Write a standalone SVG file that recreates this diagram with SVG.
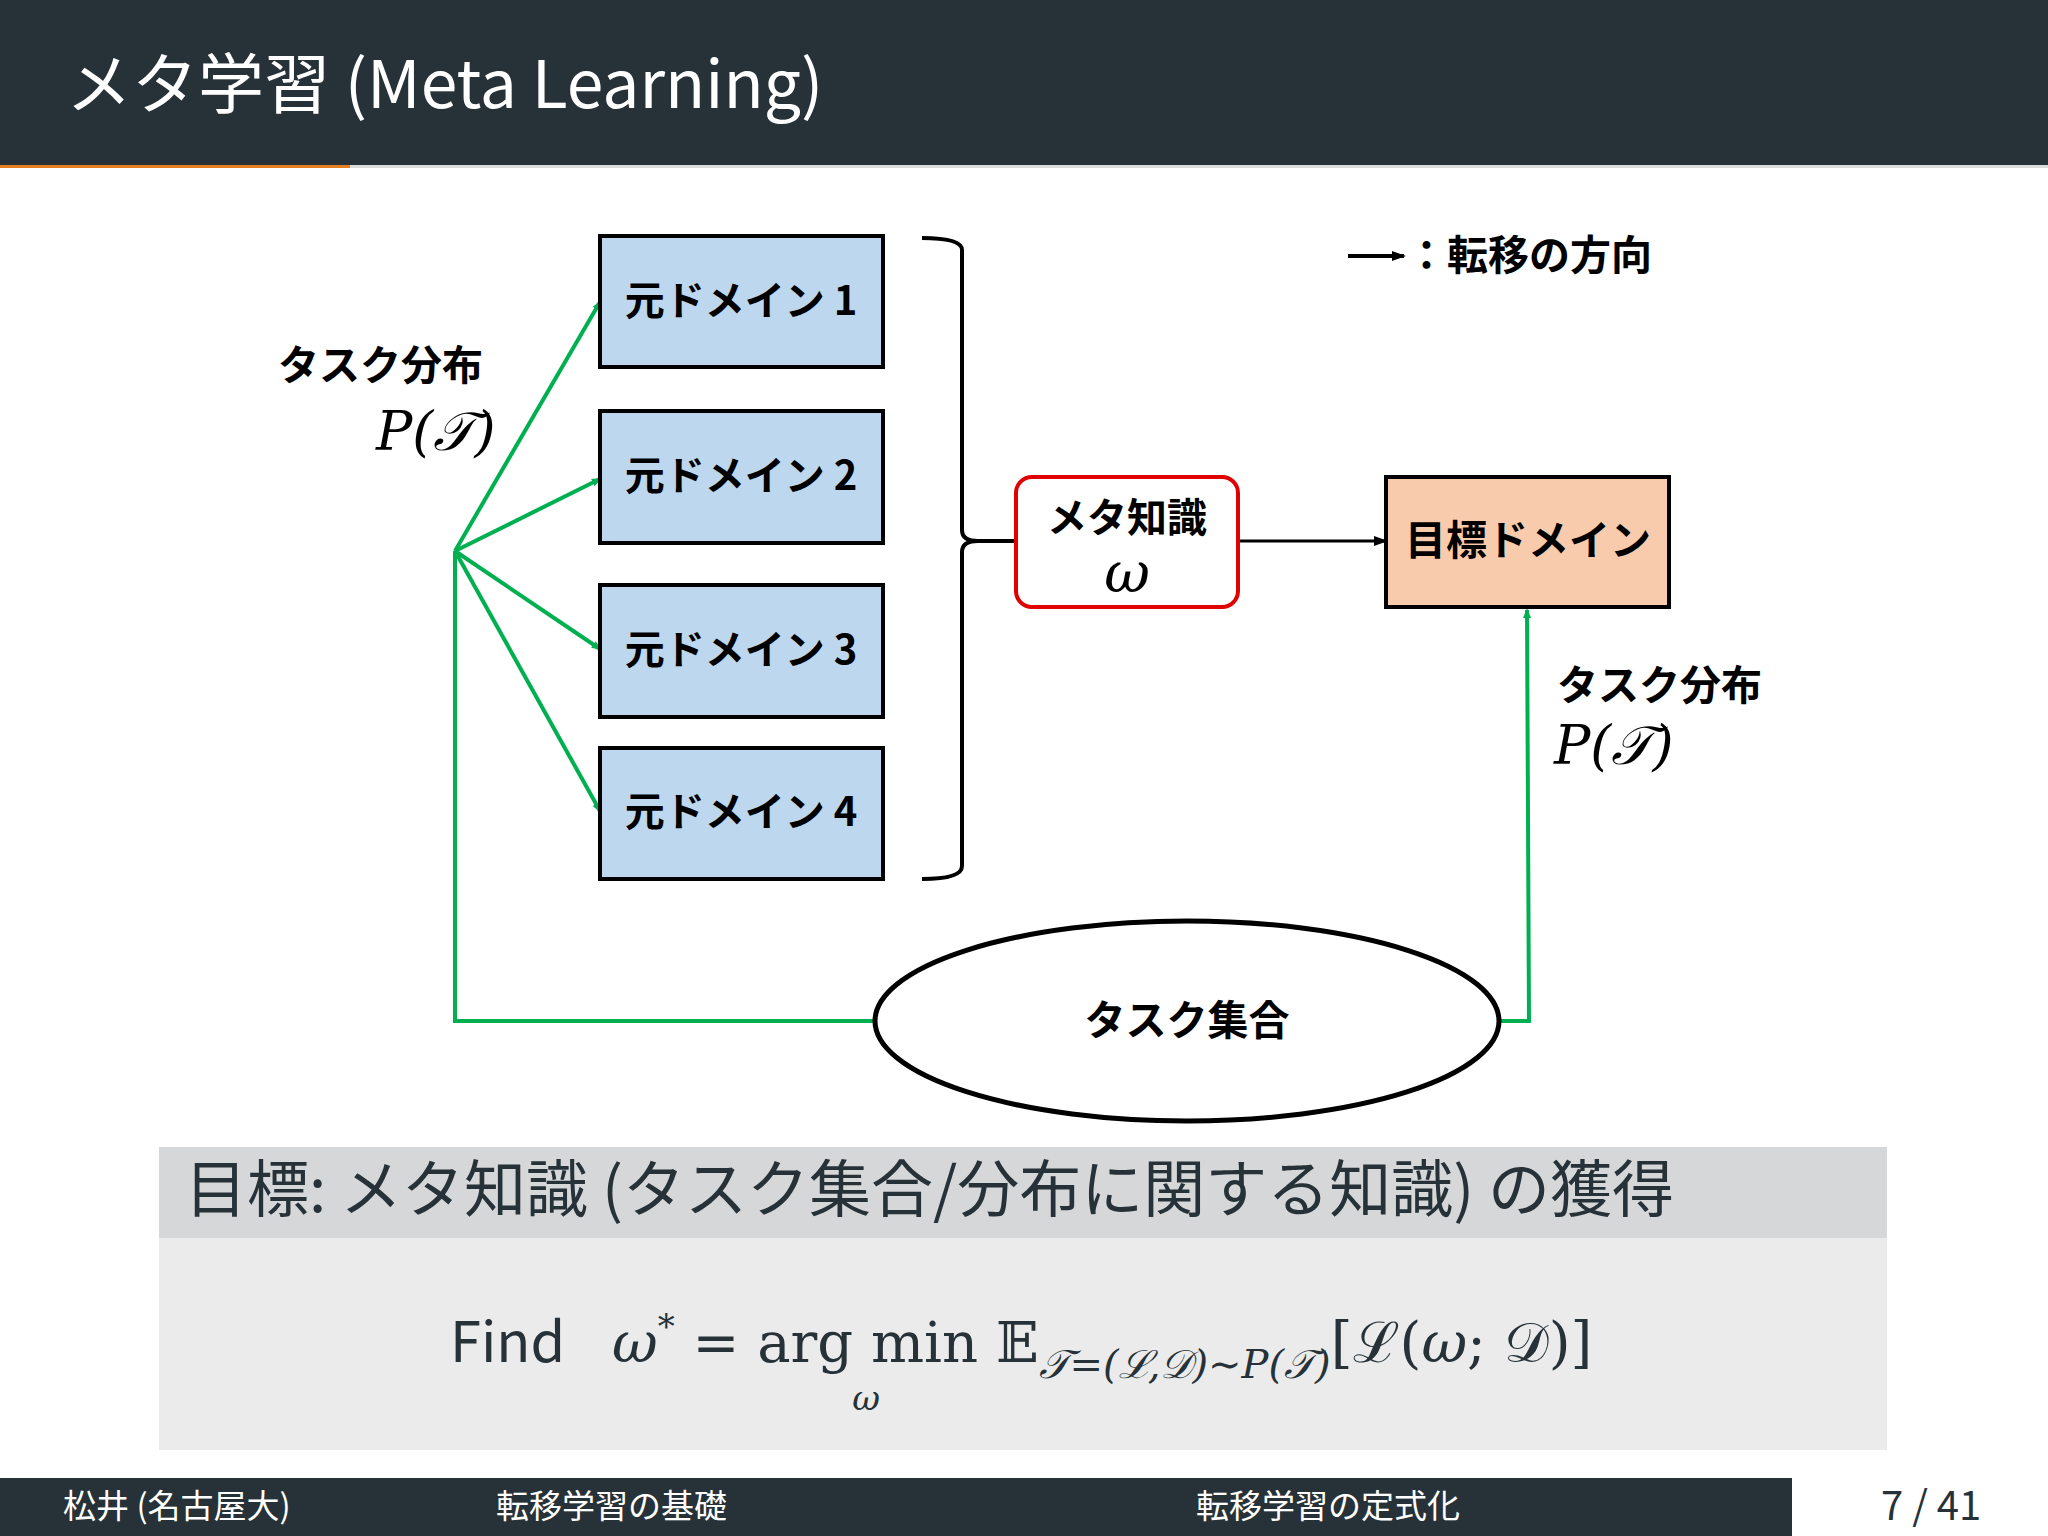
<svg xmlns="http://www.w3.org/2000/svg" width="2048" height="1536" viewBox="0 0 2048 1536">
<defs>
<style>
.jp{font-family:"Noto Sans CJK JP","Noto Sans",sans-serif}
.b{font-weight:bold}
.box{fill:#bdd7ee;stroke:#000;stroke-width:4}
.g{stroke:#00b050;stroke-width:4;fill:none}
.m{font-family:"DejaVu Serif","Liberation Serif",serif;font-style:italic}
</style>
<marker id="ga" markerWidth="10" markerHeight="10" refX="8" refY="5" orient="auto" markerUnits="userSpaceOnUse"><path d="M0,1 L10,5 L0,9 Z" fill="#00b050"/></marker>
<marker id="ka" markerWidth="14" markerHeight="12" refX="12" refY="6" orient="auto" markerUnits="userSpaceOnUse"><path d="M0,1 L14,6 L0,11 Z" fill="#000"/></marker>
</defs>
<rect width="2048" height="1536" fill="#fff"/>
<rect width="2048" height="167" fill="#263238"/>
<rect x="0" y="165" width="2048" height="3" fill="#dcdcdc"/>
<rect x="0" y="165" width="350" height="3" fill="#e67e22"/>
<text x="66" y="108" class="jp" font-size="66" fill="#fff">メタ学習 (Meta Learning)</text>

<g id="connectors">
<line class="g" x1="455" y1="551" x2="600" y2="302" marker-end="url(#ga)"/>
<line class="g" x1="455" y1="551" x2="600" y2="479" marker-end="url(#ga)"/>
<line class="g" x1="455" y1="551" x2="600" y2="649" marker-end="url(#ga)"/>
<line class="g" x1="455" y1="551" x2="600" y2="811" marker-end="url(#ga)"/>
<polyline class="g" points="455,551 455,1021 875,1021"/>
<polyline class="g" points="1499,1021 1529,1021 1527,610" marker-end="url(#ga)"/>
<line x1="1238" y1="541" x2="1386" y2="541" stroke="#000" stroke-width="3" marker-end="url(#ka)"/>
<path d="M922,238 Q962,238 962,250 L962,530 Q962,541 978,541 L1016,541 M978,541 Q962,541 962,552 L962,866 Q962,879 922,879" fill="none" stroke="#000" stroke-width="4"/>
</g>

<g id="d1"><rect class="box" x="600" y="236" width="283" height="131"/><text x="741" y="315" class="jp b" font-size="40" text-anchor="middle">元ドメイン 1</text></g>
<g id="d2"><rect class="box" x="600" y="411" width="283" height="132"/><text x="741" y="490" class="jp b" font-size="40" text-anchor="middle">元ドメイン 2</text></g>
<g id="d3"><rect class="box" x="600" y="585" width="283" height="132"/><text x="741" y="664" class="jp b" font-size="40" text-anchor="middle">元ドメイン 3</text></g>
<g id="d4"><rect class="box" x="600" y="748" width="283" height="131"/><text x="741" y="826" class="jp b" font-size="40" text-anchor="middle">元ドメイン 4</text></g>

<g id="meta"><rect x="1016" y="477" width="222" height="130" rx="16" fill="#fff" stroke="#e00000" stroke-width="4"/>
<text x="1127" y="532" class="jp b" font-size="40" text-anchor="middle">メタ知識</text>
<text x="1127" y="592" class="m" font-size="56" text-anchor="middle">ω</text></g>

<g id="target"><rect x="1386" y="477" width="283" height="130" fill="#f8cbad" stroke="#000" stroke-width="4"/>
<text x="1528" y="555" class="jp b" font-size="41" text-anchor="middle">目標ドメイン</text></g>

<g id="taskset"><ellipse cx="1187" cy="1021" rx="312" ry="100" fill="#fff" stroke="#000" stroke-width="5"/>
<text x="1187" y="1035" class="jp b" font-size="41" text-anchor="middle">タスク集合</text></g>

<text x="278" y="380" class="jp b" font-size="41">タスク分布</text>
<text x="376" y="450" class="m" font-size="54">P(𝒯)</text>
<text x="1557" y="700" class="jp b" font-size="41">タスク分布</text>
<text x="1554" y="764" class="m" font-size="54">P(𝒯)</text>

<line x1="1348" y1="256" x2="1404" y2="256" stroke="#000" stroke-width="4" marker-end="url(#ka)"/>
<text x="1406" y="270" class="jp b" font-size="41">：転移の方向</text>

<rect x="159" y="1147" width="1728" height="91" fill="#d6d7d9"/>
<rect x="159" y="1238" width="1728" height="212" fill="#ebebeb"/>
<text x="185" y="1212" class="jp" font-size="62" fill="#263238">目標: メタ知識 (タスク集合/分布に関する知識) の獲得</text>
<text x="450" y="1362" class="jp" font-size="56" fill="#263238">Find</text>
<text x="612" y="1362" font-family="DejaVu Serif,serif" font-size="56" fill="#263238"><tspan font-style="italic">ω</tspan><tspan dy="-24" font-size="34">*</tspan><tspan dy="24"> = arg min </tspan><tspan>𝔼</tspan><tspan dy="16" font-size="40" font-style="italic">𝒯=(ℒ,𝒟)∼P(𝒯)</tspan><tspan dy="-16">[ℒ(</tspan><tspan font-style="italic">ω</tspan><tspan>; 𝒟)]</tspan></text>
<text x="866" y="1410" class="m" font-size="34" text-anchor="middle" fill="#263238">ω</text>

<rect x="0" y="1478" width="1792" height="58" fill="#263238"/>
<text x="63" y="1518" class="jp" font-size="33" fill="#fff">松井 (名古屋大)</text>
<text x="496" y="1518" class="jp" font-size="33" fill="#fff">転移学習の基礎</text>
<text x="1196" y="1518" class="jp" font-size="33" fill="#fff">転移学習の定式化</text>
<text x="1881" y="1520" class="jp" font-size="40" fill="#263238">7 / 41</text>
</svg>
